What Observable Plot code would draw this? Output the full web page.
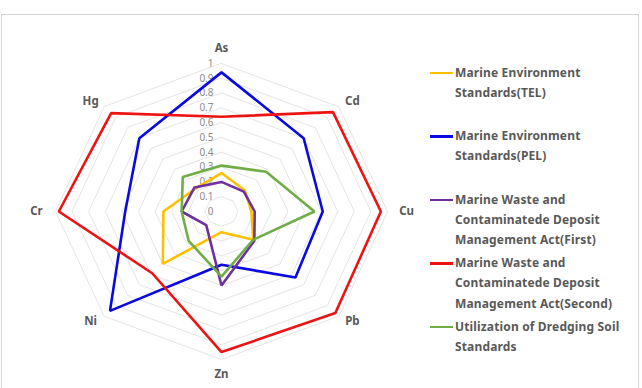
<!DOCTYPE html>
<html>
<head>
<meta charset="utf-8">
<script src="https://cdn.jsdelivr.net/npm/d3@7"></script>
<script src="https://cdn.jsdelivr.net/npm/@observablehq/plot@0.6"></script>
<style>
  html, body { margin: 0; padding: 0; background: #fff; }
  #chart { position: relative; width: 642px; height: 388px; overflow: hidden; font-family: "Noto Sans", "Liberation Sans", sans-serif; }
  #frame { position: absolute; left: 1px; top: 14px; width: 638px; height: 400px; border: 1px solid #d4d4d4; box-sizing: border-box; }
  #plot { position: absolute; left: 0; top: 0; }
  #legend { position: absolute; left: 430px; top: 0; }
  .item { position: absolute; left: 0; width: 200px; }
  .swatch { position: absolute; left: 0; top: 9px; width: 23px; height: 2.5px; }
  .label { position: absolute; left: 25px; top: 0; width: 180px; line-height: 20.3px; font-weight: bold; font-size: 12px; letter-spacing: 0.15px; color: #595959; }
</style>
</head>
<body>
<div id="chart">
  <div id="frame"></div>
  <div id="plot"></div>
  <div id="legend"></div>
</div>
<script>
// Heavy metals on the radar axes, clockwise from the top
const metals = ["As", "Cd", "Cu", "Pb", "Zn", "Ni", "Cr", "Hg"];

// Standard series (normalized values, 0–1)
const seriesNames = [
  "Marine Environment Standards(TEL)",
  "Marine Environment Standards(PEL)",
  "Marine Waste and Contaminatede Deposit Management Act(First)",
  "Marine Waste and Contaminatede Deposit Management Act(Second)",
  "Utilization of Dredging Soil Standards"
];
const seriesColors = ["#FFC000", "#0a0ae0", "#7030A0", "#EE1313", "#70AD47"];

const telValues      = [0.26, 0.20, 0.18, 0.27, 0.14, 0.50, 0.35, 0.22];
const pelValues      = [0.94, 0.70, 0.61, 0.63, 0.36, 0.95, 0.58, 0.70];
const firstValues    = [0.20, 0.19, 0.20, 0.28, 0.50, 0.13, 0.24, 0.23];
const secondValues   = [0.64, 0.95, 0.96, 0.97, 0.95, 0.59, 0.98, 0.94];
const dredgingValues = [0.31, 0.38, 0.56, 0.27, 0.44, 0.28, 0.24, 0.33];

// Radial scale ticks and their labels
const radialTicks = [0, 0.1, 0.2, 0.3, 0.4, 0.5, 0.6, 0.7, 0.8, 0.9, 1];
const tickLabels  = ["0", "0.1", "0.2", "0.3", "0.4", "0.5", "0.6", "0.7", "0.8", "0.9", "1"];

const allValues = [telValues, pelValues, firstValues, secondValues, dredgingValues];

const angle = i => (i * 2 * Math.PI) / metals.length;
const px = (r, i) => r * Math.sin(angle(i));
const py = (r, i) => r * Math.cos(angle(i));

// Long-form rows for the series polygons
const rows = [];
seriesNames.forEach((name, s) => {
  allValues[s].forEach((v, i) => rows.push({series: name, metal: metals[i], value: v, i}));
});

// Octagonal grid rings
const gridRows = [];
radialTicks.filter(t => t > 0).forEach(t => {
  metals.forEach((m, i) => gridRows.push({level: t, i}));
});

const tickRows = radialTicks.map((t, k) => ({value: t, label: tickLabels[k]}));
const axisRows = metals.map((m, i) => ({metal: m, i}));

// Category labels sit a little further out on the vertical axes than on the diagonals
const labelY = d => py(Math.abs(Math.cos(angle(d.i))) > 0.9 ? 1.1 : 1.05, d.i);

const plot = Plot.plot({
  width: 420,
  height: 388,
  margin: 0,
  x: {domain: [-1, 1], range: [55, 387], axis: null},
  y: {domain: [-1, 1], range: [359, 63], axis: null},
  color: {domain: seriesNames, range: seriesColors},
  style: {background: "transparent"},
  marks: [
    Plot.line(gridRows, {
      x: d => px(d.level, d.i), y: d => py(d.level, d.i), z: "level",
      curve: "linear-closed", stroke: "#e4e4e4", strokeWidth: 1
    }),
    Plot.text(tickRows, {
      x: () => 0, y: "value", text: "label",
      textAnchor: "end", dx: -8, fill: "#8c8c8c", fontSize: 10
    }),
    Plot.line(rows, {
      x: d => px(d.value, d.i), y: d => py(d.value, d.i), z: "series",
      stroke: "series", curve: "linear-closed", strokeWidth: 2.6, strokeLinejoin: "miter"
    }),
    Plot.text(axisRows, {
      x: d => px(1.115, d.i), y: labelY, text: "metal",
      fill: "#595959", fontSize: 11.5, fontWeight: "bold"
    })
  ]
});
document.getElementById("plot").appendChild(plot);

// Legend entries, evenly spaced down the right side
const legend = d3.select("#legend");
seriesNames.forEach((name, s) => {
  const item = legend.append("div").attr("class", "item").style("top", (62.5 + s * 63.5) + "px");
  item.append("div").attr("class", "swatch").style("background", seriesColors[s]);
  item.append("div").attr("class", "label").text(name);
});
</script>
</body>
</html>
